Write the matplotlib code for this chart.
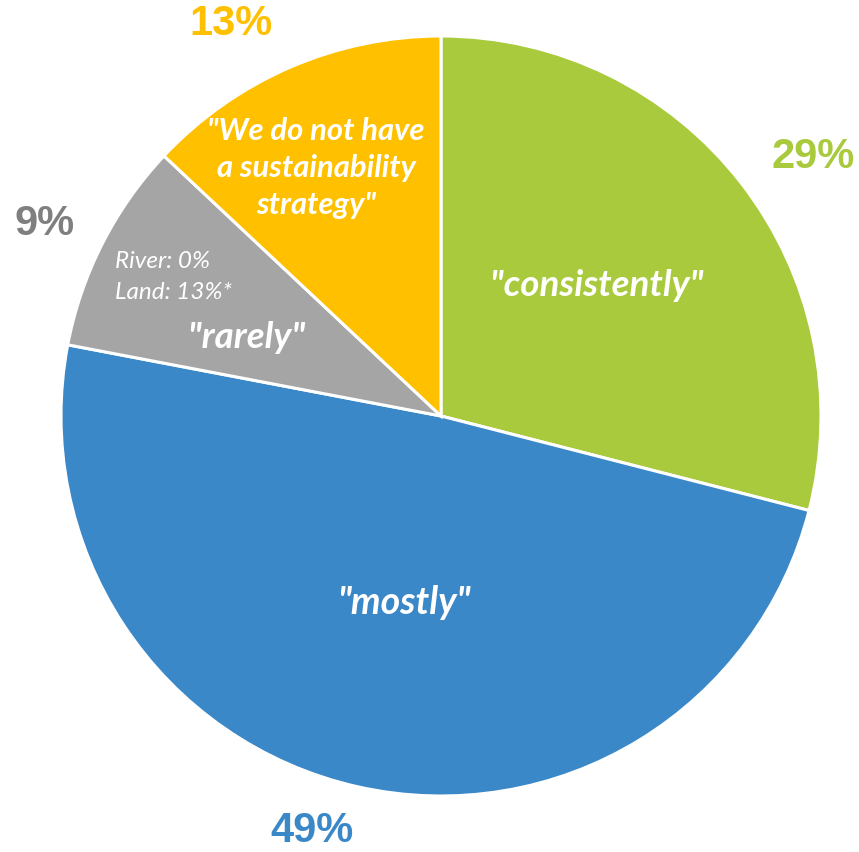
import matplotlib.pyplot as plt

# survey shares, clockwise from 12 o'clock
shares = [29, 49, 9, 13]
slice_colors = ["#A9CA3C", "#3B88C8", "#A5A5A5", "#FFC000"]
pct_colors = ["#A9CA3C", "#3B88C8", "#7F7F7F", "#FFC000"]
quotes = ['"consistently"', '"mostly"', '"rarely"',
          '"We do not have\na sustainability\nstrategy"']

fig = plt.figure(figsize=(8.59, 8.52), dpi=100)
ax = fig.add_axes([0, 0, 1, 1])

cx, cy, r = 441, 416, 380
# y axis is flipped, so counterclock=True runs clockwise on screen
wedges, _ = ax.pie(shares, colors=slice_colors, startangle=-90, counterclock=True,
                   center=(cx, cy), radius=r, frame=True,
                   wedgeprops=dict(edgecolor="white", linewidth=2.2))
ax.set_xlim(0, 859)
ax.set_ylim(852, 0)
ax.axis("off")

pct_pos = [(813, 157), (312, 831), (45, 224), (231, 24)]
for val, col, (x, y) in zip(shares, pct_colors, pct_pos):
    ax.text(x, y, f"{val}%", color=col, fontsize=30, fontweight="bold",
            family="Liberation Sans", ha="center", va="center")

inner_pos = [(597, 285, 26.5), (405, 603, 27), (247, 337, 26.5), (316, 168, 22.3)]
for q, (x, y, fs) in zip(quotes, inner_pos):
    ax.text(x, y, q, color="white", fontsize=fs, fontweight="bold", style="italic",
            family="Lato", ha="center", va="center", linespacing=1.4)

ax.text(115, 277, "River: 0%\nLand: 13%*", color="white", fontsize=17.5,
        style="italic", family="Lato", ha="left", va="center", linespacing=1.6)

fig.savefig("out.png", dpi=100)
